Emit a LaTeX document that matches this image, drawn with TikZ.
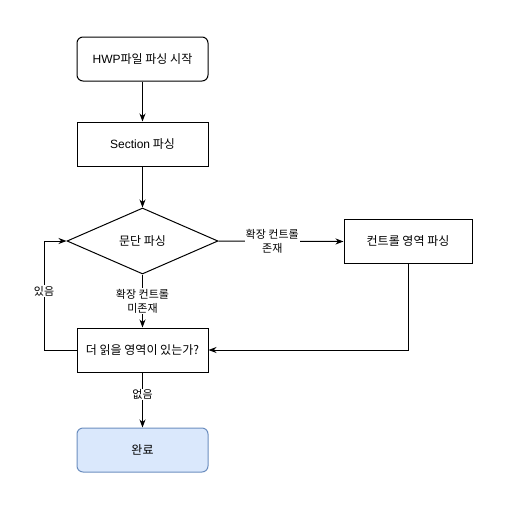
\documentclass[tikz,border=0pt]{standalone}
\usepackage{fontspec}
\setmainfont{Noto Sans CJK KR}
\newfontfamily\latin{Liberation Sans}
\usetikzlibrary{shapes.geometric,arrows.meta}
\definecolor{endfill}{HTML}{DAE8FC}
\definecolor{enddraw}{HTML}{6C8EBF}
\begin{document}
\begin{tikzpicture}[x=1pt,y=-1pt,->,>={Stealth[length=8pt,width=6pt,inset=2.5pt]},line width=1pt,
  every node/.style={font=\fontsize{12}{15}\selectfont},
  procbox/.style={draw,rectangle,minimum width=131pt,minimum height=44pt,inner sep=2pt},
  termbox/.style={procbox,rounded corners=6pt},
  decision/.style={draw,diamond,minimum width=151pt,minimum height=66pt,inner sep=0pt},
  edgelabel/.style={fill=white,align=center,inner sep=1pt,font=\fontsize{11}{14}\selectfont}]
\useasboundingbox (0,0) rectangle (504,512);
\node[termbox] (start) at (142.5,59) {{\latin HWP}파일 파싱 시작};
\node[procbox] (section) at (142.5,144) {{\latin Section} 파싱};
\node[decision] (para) at (142.5,241) {문단 파싱};
\node[procbox,minimum width=128pt] (ctrl) at (408,241.5) {컨트롤 영역 파싱};
\node[procbox] (more) at (142.5,350) {더 읽을 영역이 있는가?};
\node[termbox,fill=endfill,draw=enddraw] (done) at (142.5,450) {완료};
\coordinate (loop) at (44,350);
\draw (start) -- (section);
\draw (section) -- (para);
\draw (para.east) -- (ctrl.west) node[edgelabel,pos=0.43] {확장 컨트롤\\존재};
\draw (para.south) -- (more.north) node[edgelabel,midway] {확장 컨트롤\\미존재};
\draw (ctrl.south) |- (more.east);
\draw (more.west) -- (loop) |- (para.west) node[edgelabel,pos=0.27] {있음};
\draw (more) -- (done) node[edgelabel,pos=0.4] {없음};
\end{tikzpicture}
\end{document}
